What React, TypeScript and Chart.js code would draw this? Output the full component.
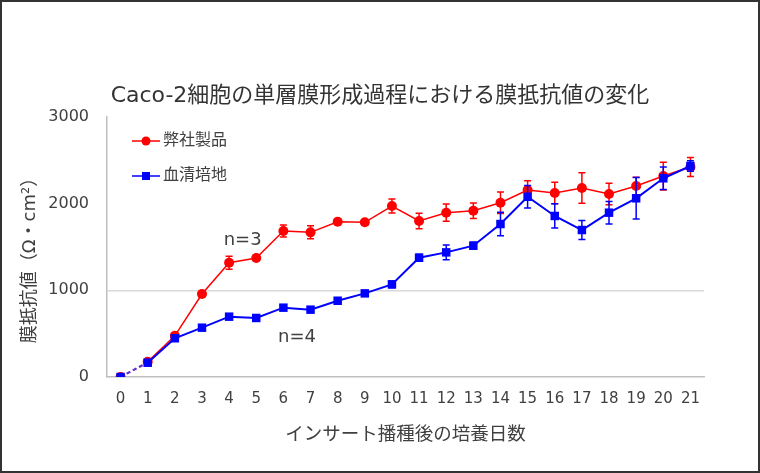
import React, { useEffect, useRef } from 'react';
import { Chart, registerables } from 'chart.js';

Chart.register(...registerables);

// ---- data ----
const days = ['0', '1', '2', '3', '4', '5', '6', '7', '8', '9', '10', '11', '12', '13', '14', '15', '16', '17', '18', '19', '20', '21'];
const productValues = [0, 175, 475, 958, 1319, 1373, 1685, 1669, 1792, 1785, 1973, 1800, 1896, 1919, 2011, 2158, 2123, 2181, 2112, 2204, 2319, 2423];
const productErrors = [0, 20, 30, 30, 75, 30, 70, 75, 30, 30, 80, 90, 100, 90, 125, 105, 125, 175, 125, 100, 160, 110];
const serumValues = [0, 165, 447, 569, 696, 681, 800, 777, 880, 965, 1069, 1376, 1438, 1515, 1765, 2080, 1858, 1696, 1896, 2062, 2293, 2435];
const serumErrors = [0, 20, 30, 30, 30, 30, 30, 30, 30, 30, 40, 40, 85, 40, 135, 130, 140, 110, 130, 240, 130, 60];
const seriesNames = ['弊社製品', '血清培地'];
const yTickValues = [0, 1000, 2000, 3000];
const chartTitle = 'Caco-2細胞の単層膜形成過程における膜抵抗値の変化';
const yAxisTitle = '膜抵抗値（Ω・cm²）';
const xAxisTitle = 'インサート播種後の培養日数';
const noteLabels = ['n=3', 'n=4'];
const noteX = [4.5, 6.5];
const noteY = [1580, 460];

const FONT = '"DejaVu Sans", "Noto Sans CJK JP", sans-serif';
const RED = '#ff0000';
const BLUE = '#0000ff';
const TEXT = '#404040';

const errorBarsPlugin = {
  id: 'errorBars',
  afterDatasetDraw(chart: any, args: any) {
    const ds = chart.data.datasets[args.index] as any;
    const errs: number[] = ds.errors;
    if (!errs) return;
    const { ctx, scales } = chart;
    const xs = scales.x;
    const ys = scales.y;
    ctx.save();
    ctx.strokeStyle = ds.borderColor;
    ctx.lineWidth = 1.5;
    ds.data.forEach((v: number, i: number) => {
      const e = errs[i];
      if (!e) return;
      const x = xs.getPixelForValue(i);
      const yt = ys.getPixelForValue(v + e);
      const yb = ys.getPixelForValue(v - e);
      ctx.beginPath();
      ctx.moveTo(x, yt);
      ctx.lineTo(x, yb);
      ctx.moveTo(x - 3.5, yt);
      ctx.lineTo(x + 3.5, yt);
      ctx.moveTo(x - 3.5, yb);
      ctx.lineTo(x + 3.5, yb);
      ctx.stroke();
    });
    ctx.restore();
  },
};

const decorPlugin = {
  id: 'decor',
  beforeDraw(chart: any) {
    const { ctx, width, height } = chart;
    ctx.save();
    ctx.fillStyle = '#ffffff';
    ctx.fillRect(0, 0, width, height);
    ctx.restore();
  },
  afterDraw(chart: any) {
    const { ctx, width, height, chartArea, scales } = chart;
    ctx.save();
    // title
    ctx.fillStyle = '#333333';
    ctx.textAlign = 'center';
    ctx.textBaseline = 'middle';
    ctx.font = `22px ${FONT}`;
    ctx.fillText(chartTitle, 380, 96);
    ctx.fillStyle = TEXT;
    // x axis title
    ctx.font = `18.5px ${FONT}`;
    ctx.fillText(xAxisTitle, (chartArea.left + chartArea.right) / 2, 435);
    // y axis title
    ctx.save();
    ctx.translate(30, 256);
    ctx.rotate(-Math.PI / 2);
    ctx.font = `18px ${FONT}`;
    ctx.fillText(yAxisTitle, 0, 0);
    ctx.restore();
    // notes
    ctx.font = `18px ${FONT}`;
    noteLabels.forEach((t, i) => {
      ctx.fillText(t, scales.x.getPixelForValue(noteX[i]), scales.y.getPixelForValue(noteY[i]));
    });
    // legend
    const items = [
      { name: seriesNames[0], color: RED, style: 'circle' },
      { name: seriesNames[1], color: BLUE, style: 'rect' },
    ];
    items.forEach((it, i) => {
      const y = chartArea.top + 24 + i * 35;
      const x0 = chartArea.left + 25;
      ctx.strokeStyle = it.color;
      ctx.lineWidth = 1.5;
      ctx.beginPath();
      ctx.moveTo(x0, y);
      ctx.lineTo(x0 + 28, y);
      ctx.stroke();
      ctx.fillStyle = it.color;
      if (it.style === 'circle') {
        ctx.beginPath();
        ctx.arc(x0 + 14, y, 4.5, 0, Math.PI * 2);
        ctx.fill();
      } else {
        ctx.fillRect(x0 + 10, y - 4, 8, 8);
      }
      ctx.fillStyle = TEXT;
      ctx.textAlign = 'left';
      ctx.font = `16px ${FONT}`;
      ctx.fillText(it.name, x0 + 31, y);
    });
    // outer frame
    ctx.strokeStyle = '#333333';
    ctx.lineWidth = 2;
    ctx.strokeRect(1, 1, width - 2, height - 2);
    ctx.restore();
  },
};

const dashFirst = (ctx: any) => (ctx.p0DataIndex === 0 ? [4, 3] : undefined);
const colorFirst = (base: string) => (ctx: any) => (ctx.p0DataIndex === 0 ? '#6633cc' : base);

export default function App() {
  const ref = useRef<HTMLCanvasElement | null>(null);
  useEffect(() => {
    document.body.style.margin = '0';
    if (!ref.current) return;
    const chart = new Chart(ref.current, {
      type: 'line',
      data: {
        labels: days,
        datasets: [
          {
            label: seriesNames[1],
            data: serumValues,
            errors: serumErrors,
            borderColor: BLUE,
            backgroundColor: BLUE,
            borderWidth: 2,
            pointStyle: 'rect',
            pointRadius: 6,
            pointBorderWidth: 0,
            order: 0,
            segment: { borderDash: dashFirst, borderColor: colorFirst(BLUE) },
          } as any,
          {
            label: seriesNames[0],
            data: productValues,
            errors: productErrors,
            borderColor: RED,
            backgroundColor: RED,
            borderWidth: 1.5,
            pointStyle: 'circle',
            pointRadius: 5,
            pointBorderWidth: 0,
            order: 1,
            segment: { borderDash: dashFirst, borderColor: colorFirst(RED) },
          } as any,
        ],
      },
      options: {
        responsive: false,
        animation: false,
        layout: { padding: { top: 117, right: 56, left: 0, bottom: 0 } },
        plugins: {
          legend: { display: false },
          tooltip: { enabled: false },
          title: { display: false },
        },
        scales: {
          x: {
            type: 'category',
            offset: true,
            grid: { display: false, drawTicks: false },
            border: { display: true, color: '#bfbfbf', width: 1.5 },
            ticks: {
              autoSkip: false,
              maxRotation: 0,
              padding: 13,
              color: '#404040',
              font: { family: FONT, size: 15 },
            },
            afterFit: (s: any) => { s.height = 96; },
          },
          y: {
            min: 0,
            max: 3000,
            afterBuildTicks: (s: any) => { s.ticks = yTickValues.map((v) => ({ value: v })); },
            grid: {
              drawTicks: false,
              color: (c: any) => (c.tick && c.tick.value === 1000 ? '#d9d9d9' : 'rgba(0,0,0,0)'),
              lineWidth: 1.5,
            },
            border: { display: true, color: '#bfbfbf', width: 1.5 },
            ticks: {
              padding: 18,
              color: '#404040',
              font: { family: FONT, size: 16 },
              callback: (v: any) => String(v),
            },
            afterFit: (s: any) => { s.width = 107; },
          },
        },
      } as any,
      plugins: [errorBarsPlugin, decorPlugin],
    });
    return () => chart.destroy();
  }, []);
  return (
    <div style={{ position: 'absolute', left: 0, top: 0, width: 760, height: 473 }}>
      <canvas ref={ref} width={760} height={473} />
    </div>
  );
}
